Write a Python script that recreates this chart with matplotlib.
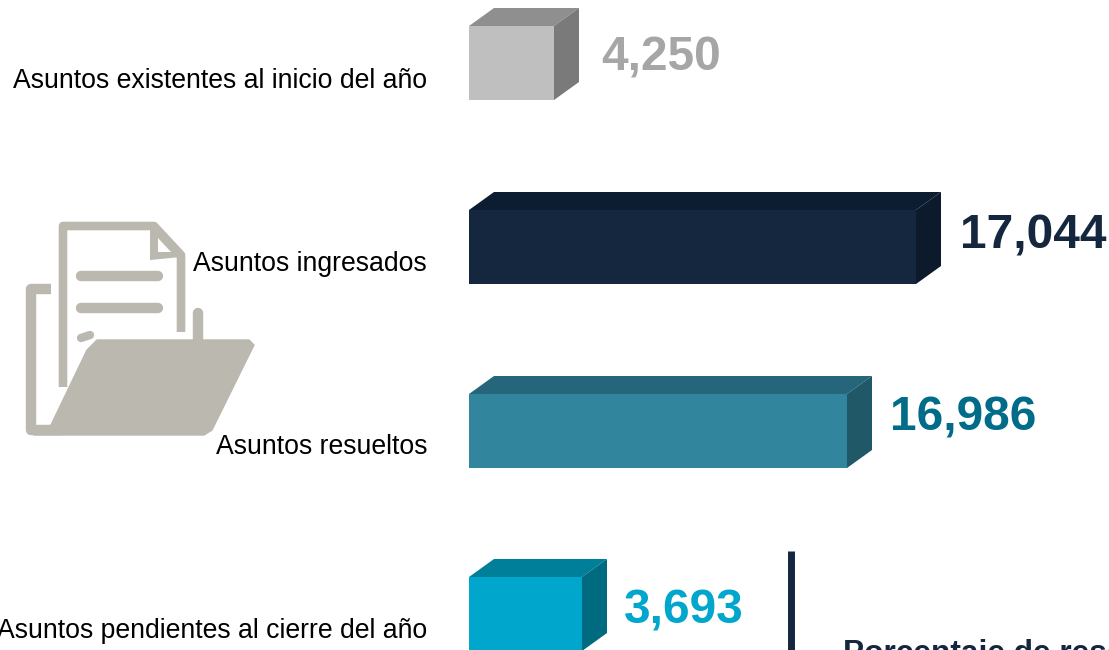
"""Asuntos bars with fake 3D faces and the folder icon."""
import matplotlib
matplotlib.use("Agg")
import matplotlib.pyplot as plt
from matplotlib.patches import Polygon

plt.rcParams["font.family"] = ["Liberation Sans", "DejaVu Sans"]

categories = ["Asuntos existentes al inicio del año", "Asuntos ingresados",
              "Asuntos resueltos", "Asuntos pendientes al cierre del año"]
value_labels = ["4,250", "17,044", "16,986", "3,693"]
# drawn lengths in the picture, they are not proportional to the labels
bar_lengths = [85, 447, 378, 113]

front_colors = ["#BFBFBF", "#14273F", "#31859C", "#00A6CB"]
top_colors = ["#8F8F8F", "#0D1D31", "#25667A", "#007F9A"]
side_colors = ["#7A7A7A", "#0C1A2C", "#215868", "#006B80"]
value_colors = ["#A6A6A6", "#14273F", "#006C8A", "#00A6CB"]

ICON = "#BBB8B0"
X0 = 469
DX, DY = 25, 18
BAR_H = 74
bar_tops = [26, 210, 394, 577]
label_y = [81, 264, 447, 631]
value_x = [601, 960, 890, 624]
value_y = [58, 236, 418, 611]


def draw_bars(ax):
    for i, length in enumerate(bar_lengths):
        top = bar_tops[i]
        ax.barh(top + BAR_H / 2, length, height=BAR_H, left=X0, color=front_colors[i], lw=0)
        x1 = X0 + length
        ax.add_patch(Polygon([(X0, top), (X0 + DX, top - DY), (x1 + DX, top - DY), (x1, top)],
                             closed=True, fc=top_colors[i], lw=0))
        ax.add_patch(Polygon([(x1, top), (x1 + DX, top - DY), (x1 + DX, top + BAR_H - DY), (x1, top + BAR_H)],
                             closed=True, fc=side_colors[i], lw=0))
        ax.text(value_x[i], value_y[i], value_labels[i], fontsize=34.5, fontweight="bold",
                color=value_colors[i], ha="left", va="center")
        ax.text(427, label_y[i], categories[i], fontsize=19.2, color="black", ha="right", va="center")


def draw_icon(ax):
    # paper outline
    ax.plot([63, 63, 154, 181, 181], [387, 226, 226, 255, 332], color=ICON, lw=6.2,
            solid_joinstyle="round", solid_capstyle="butt")
    ax.add_patch(Polygon([(150, 226), (181, 257), (150, 260)], closed=True, fc=ICON, lw=0))
    ax.add_patch(Polygon([(158, 238), (171, 252), (158, 252)], closed=True, fc="white", lw=0))
    # text lines on the paper
    ax.plot([81, 158], [276, 276], color=ICON, lw=7.5, solid_capstyle="round")
    ax.plot([81, 158], [308, 308], color=ICON, lw=7.5, solid_capstyle="round")
    ax.plot([81, 90], [338, 335], color=ICON, lw=6, solid_capstyle="round")
    # back of the folder
    ax.plot([51, 31, 31, 60], [289, 289, 430, 430], color=ICON, lw=7.5,
            solid_joinstyle="round", solid_capstyle="butt")
    ax.plot([198, 198], [340, 313], color=ICON, lw=7.5, solid_capstyle="round")
    ax.add_patch(Polygon([(97, 340), (249, 340), (254, 345), (212, 430), (204, 435), (34, 435),
                          (51, 425), (87, 350)], closed=True, fc=ICON, ec=ICON, lw=1,
                         joinstyle="round"))


fig = plt.figure(figsize=(11.09, 6.5), dpi=100)
ax = fig.add_axes([0, 0, 1, 1])
ax.set_xlim(0, 1109)
ax.set_ylim(650, 0)
ax.axis("off")

draw_icon(ax)
draw_bars(ax)

# divider and the cut off caption at the bottom
ax.plot([790.5, 790.5], [551, 650], color="#14273F", lw=5, solid_capstyle="butt")
ax.text(843, 654, "Porcentaje de resolución", fontsize=22.8, fontweight="bold",
        color="#14273F", ha="left", va="center")

fig.savefig("out.png", dpi=100)
print("wrote out.png")
